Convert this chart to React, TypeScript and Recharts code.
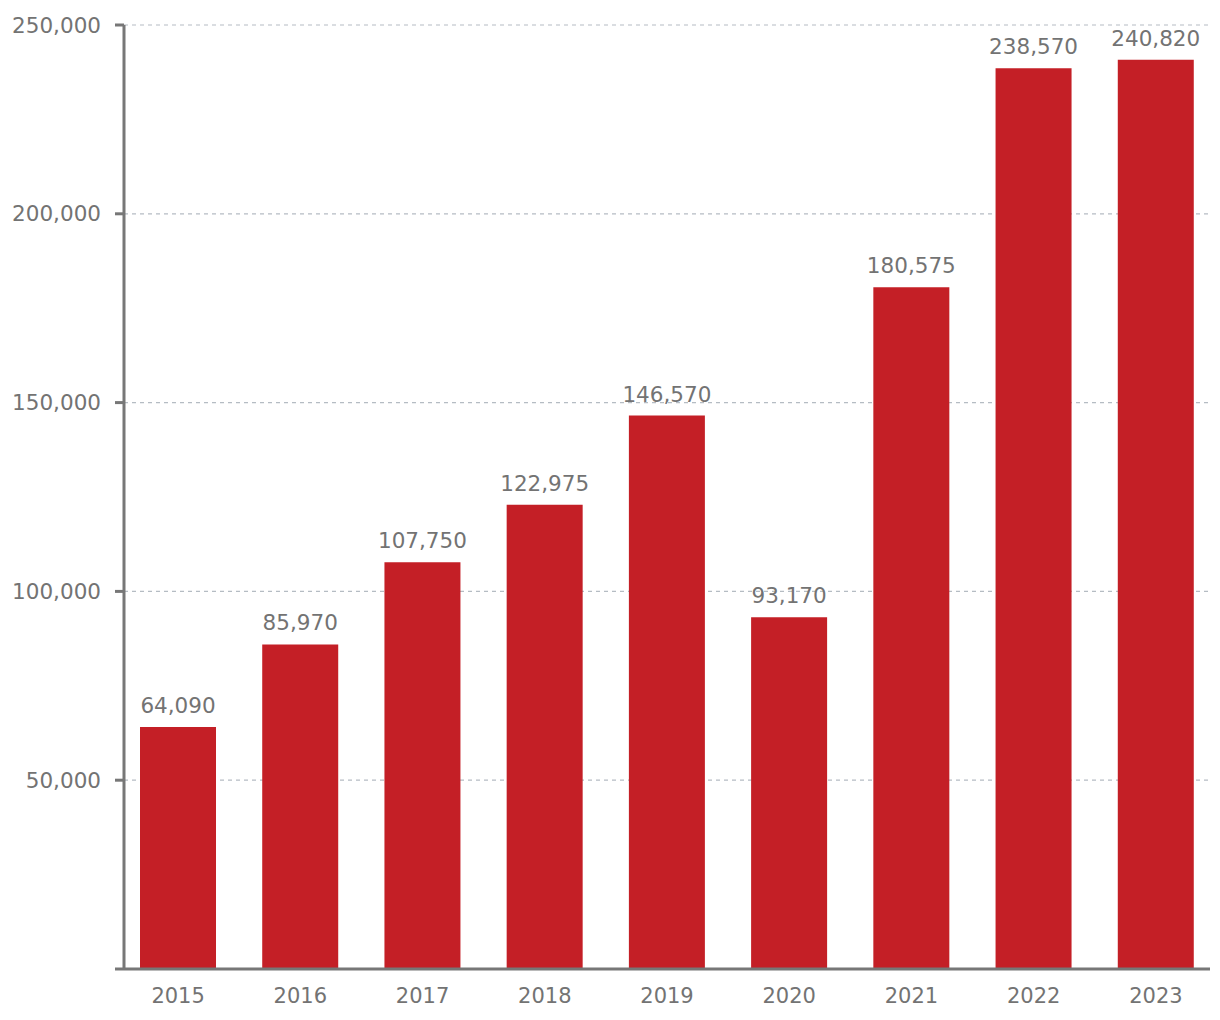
import React from 'react';
import { BarChart, Bar, XAxis, YAxis, CartesianGrid, LabelList } from 'recharts';

const years = ['2015', '2016', '2017', '2018', '2019', '2020', '2021', '2022', '2023'];
const values = [64090, 85970, 107750, 122975, 146570, 93170, 180575, 238570, 240820];
const yTicks = [0, 50000, 100000, 150000, 200000, 250000];

const data = years.map((y, i) => ({ year: y, value: values[i] }));

const fmt = (v: number) => v.toLocaleString('en-US');
const FONT = '"DejaVu Sans", sans-serif';
const TEXT = '#737373';
const AXIS = '#777777';

export default function App() {
  return (
    <div style={{ position: 'absolute', left: 0, top: 0, width: 1220, height: 1020, background: '#fff' }}>
      <BarChart width={1220} height={1020} data={data} margin={{ top: 25, right: 10, bottom: 0, left: 0 }}>
        <CartesianGrid vertical={false} stroke="#b5bcc3" strokeDasharray="4 4" strokeWidth={1.2} />
        <XAxis
          dataKey="year"
          height={51}
          padding={{ left: -7, right: -7 }}
          axisLine={{ stroke: AXIS, strokeWidth: 3 }}
          tickLine={false}
          tickMargin={13}
          tick={{ fill: TEXT, fontSize: 21, fontFamily: FONT }}
        />
        <YAxis
          width={124}
          domain={[0, 250000]}
          ticks={yTicks}
          interval={0}
          tickFormatter={(v: number) => (v === 0 ? '' : fmt(v))}
          axisLine={{ stroke: AXIS, strokeWidth: 3 }}
          tickLine={{ stroke: AXIS, strokeWidth: 3 }}
          tickSize={9}
          tickMargin={14}
          tick={{ fill: TEXT, fontSize: 21.5, fontFamily: FONT }}
        />
        <Bar dataKey="value" fill="#c41f26" barSize={76} isAnimationActive={false}>
          <LabelList
            dataKey="value"
            position="top"
            offset={14}
            formatter={(v: number) => fmt(v)}
            style={{ fill: TEXT, fontSize: 21.5, fontFamily: FONT }}
          />
        </Bar>
      </BarChart>
    </div>
  );
}
